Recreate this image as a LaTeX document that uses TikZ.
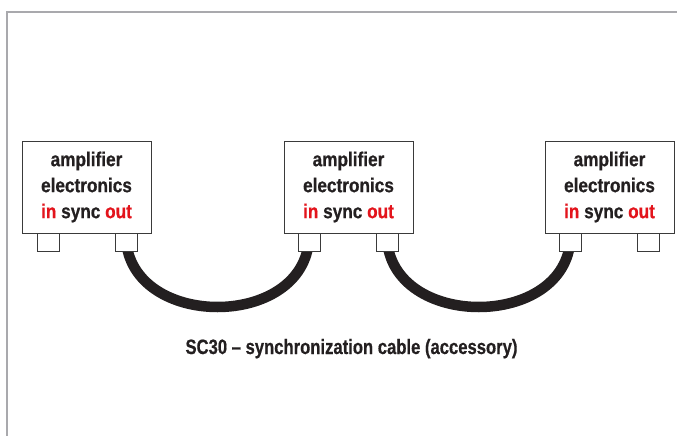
\documentclass[tikz,border=0pt]{standalone}
\usepackage{fontspec}
\setmainfont{Liberation Sans}
\newfontfamily\boxfont[FakeStretch=0.86,FakeBold=0.6]{Liberation Sans Bold}
\newfontfamily\capfont[FakeStretch=0.8,FakeBold=0.6]{Liberation Sans Bold}
\definecolor{framegray}{HTML}{A9A9AD}
\definecolor{inkdark}{HTML}{231F20}
\definecolor{sigred}{HTML}{E3141C}
\definecolor{boxline}{HTML}{3A3A3A}
\tikzset{
  frameline/.style={draw=framegray, line width=2pt},
  ampbox/.style={draw=boxline, line width=1pt, fill=white, minimum width=129pt, minimum height=92pt,
    inner sep=0pt, align=center, text=inkdark,
    font=\boxfont\fontsize{20}{26}\selectfont},
  plug/.style={draw=boxline, line width=0.9pt, fill=white, minimum width=22pt, minimum height=18pt, inner sep=0pt},
  cable/.style={draw=inkdark, line width=10.5pt, line cap=butt},
  caption/.style={text=inkdark, font=\capfont\fontsize{20.8}{24}\selectfont, inner sep=0pt}
}
\newcommand{\rd}[1]{\textcolor{sigred}{#1}}
\begin{document}
\begin{tikzpicture}[x=1pt,y=-1pt]
\useasboundingbox (0,0) rectangle (677,436);
\coordinate (fa) at (6.5,436);
\coordinate (fb) at (6.5,12.3);
\coordinate (fc) at (677,12.3);
\draw[frameline] (fa) -- (fb) -- (fc);

% boxes
\node[ampbox] (b1) at (86.5,187) {amplifier\\electronics\\\rd{in} sync \rd{out}};
\node[ampbox] (b2) at (348.5,187) {amplifier\\electronics\\\rd{in} sync \rd{out}};
\node[ampbox] (b3) at (609.5,187) {amplifier\\electronics\\\rd{in} sync \rd{out}};

% plug positions
\coordinate (p1l) at (48,242);
\coordinate (p1r) at (126,242);
\coordinate (p2l) at (309,242);
\coordinate (p2r) at (387,242);
\coordinate (p3l) at (570.5,242);
\coordinate (p3r) at (648,242);

% cables (under plugs)
\draw[cable] ([yshift=4pt]p1r) .. controls (130,330) and (305,330) .. ([yshift=4pt]p2l);
\draw[cable] ([yshift=4pt]p2r) .. controls (391,330) and (566.5,330) .. ([yshift=4pt]p3l);

% plugs
\node[plug] (c1l) at (p1l) {};
\node[plug] (c1r) at (p1r) {};
\node[plug] (c2l) at (p2l) {};
\node[plug] (c2r) at (p2r) {};
\node[plug] (c3l) at (p3l) {};
\node[plug] (c3r) at (p3r) {};

\node[caption, anchor=base] (cap) at (351.5,354) {SC30 – synchronization cable (accessory)};
\end{tikzpicture}
\end{document}
